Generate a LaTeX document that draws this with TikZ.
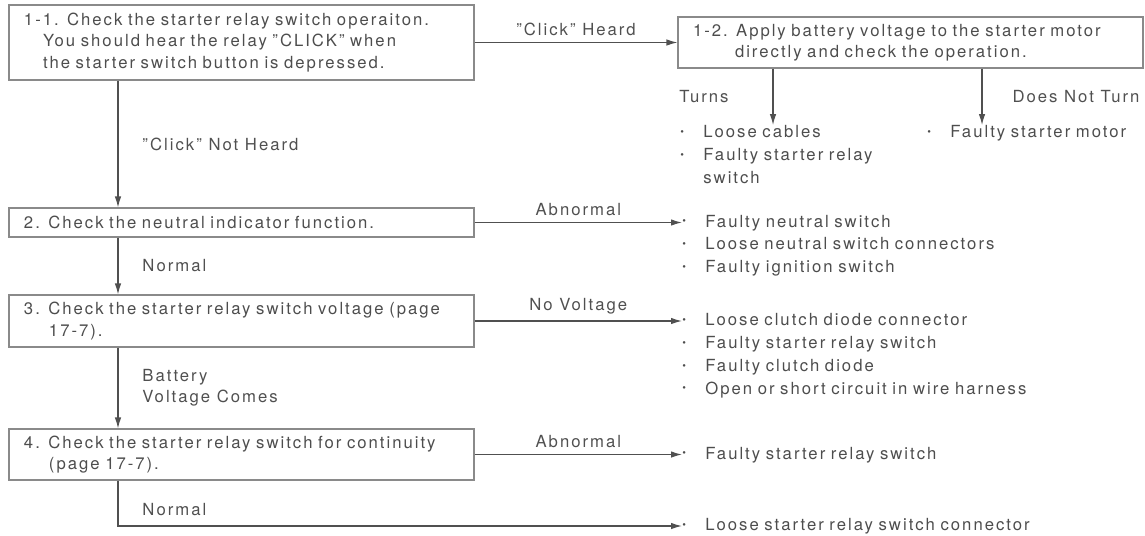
\documentclass[tikz,border=0pt]{standalone}
\usepackage{fontspec}
\setmainfont{TeX Gyre Heros}[LetterSpace=12]
\usetikzlibrary{positioning, arrows.meta, calc}
\definecolor{ink}{HTML}{4D4D4D}
\definecolor{lineink}{HTML}{505050}
\definecolor{boxline}{HTML}{8A8A8A}
\newcommand{\bul}{\makebox[0.46cm][l]{\raisebox{0.25ex}{\fontsize{6}{6}\selectfont\textbullet}}}

\begin{document}
\begin{tikzpicture}[
  font=\fontsize{9.5}{12.2}\selectfont, color=ink,
  stepbox/.style={draw=boxline, line width=0.6pt, minimum width=9.3cm, text width=8.7cm, inner xsep=0.3cm, align=left},
  faults/.style={anchor=mid west, inner sep=0pt, text width=9cm, align=left, font=\fontsize{9.5}{13}\selectfont},
  lbl/.style={inner sep=0.5pt},
  arr/.style={-{Latex[length=2.2mm, width=1.3mm]}, line width=0.7pt, lineink}
]
  \useasboundingbox (0,0) rectangle (22.9,-10.7);

  \node[stepbox, minimum height=1.5cm] (chk11) at (4.83,-0.85) {1-1. Check the starter relay switch operaiton.\\\hspace*{0.38cm}You should hear the relay ”CLICK” when\\\hspace*{0.38cm}the starter switch button is depressed.};
  \node[stepbox, minimum height=1.02cm] (chk12) at (18.21,-0.85) {1-2. Apply battery voltage to the starter motor\\\hspace*{0.84cm}directly and check the operation.};
  \node[stepbox, minimum height=0.58cm] (chk2) at (4.83,-4.45) {2. Check the neutral indicator function.};
  \node[stepbox, minimum height=1.04cm] (chk3) at (4.83,-6.42) {3. Check the starter relay switch voltage (page\\\hspace*{0.5cm}17-7).};
  \node[stepbox, minimum height=1.02cm] (chk4) at (4.83,-9.09) {4. Check the starter relay switch for continuity\\\hspace*{0.5cm}(page 17-7).};

  \node[faults] (cables) at (13.6,-2.66) {\bul Loose cables\\\bul Faulty starter relay\\\hspace*{0.46cm}switch};
  \node[faults, text width=4cm] (motor) at (18.54,-2.66) {\bul Faulty starter motor};
  \node[faults] (neutral) at (13.64,-4.45) {\bul Faulty neutral switch\\\bul Loose neutral switch connectors\\\bul Faulty ignition switch};
  \node[faults] (diode) at (13.64,-6.42) {\bul Loose clutch diode connector\\\bul Faulty starter relay switch\\\bul Faulty clutch diode\\\bul Open or short circuit in wire harness};
  \node[faults] (relay) at (13.64,-9.09) {\bul Faulty starter relay switch};
  \node[faults] (relayconn) at (13.64,-10.52) {\bul Loose starter relay switch connector};

  \coordinate (spine) at (2.36,0);
  \coordinate (turns) at (15.46,0);
  \coordinate (noturn) at (19.64,0);

  \draw[arr] (chk11.east) -- node[lbl, above=3pt] {”Click” Heard} (chk12.west);
  \draw[arr] (turns |- chk12.south) -- node[lbl, left=0.86cm] {Turns} (turns |- cables.north);
  \draw[arr] (noturn |- chk12.south) -- node[lbl, right=0.58cm] {Does Not Turn} (noturn |- motor.north);
  \draw[arr] (spine |- chk11.south) -- node[lbl, right=0.46cm] {”Click” Not Heard} (spine |- chk2.north);
  \draw[arr] (chk2.east) -- node[lbl, above=3pt] {Abnormal} (neutral.mid west);
  \draw[arr] (spine |- chk2.south) -- node[lbl, right=0.46cm] {Normal} (spine |- chk3.north);
  \draw[arr] (chk3.east) -- node[lbl, above=3pt] {No Voltage} (diode.mid west);
  \draw[arr] (spine |- chk3.south) -- node[lbl, right=0.46cm, align=left] {Battery\\Voltage Comes} (spine |- chk4.north);
  \draw[arr] (chk4.east) -- node[lbl, above=3pt] {Abnormal} (relay.mid west);
  \draw[arr] (spine |- chk4.south) |- node[lbl, pos=0.5, anchor=west, xshift=0.46cm, yshift=0.32cm] {Normal} (relayconn.mid west);
\end{tikzpicture}
\end{document}
